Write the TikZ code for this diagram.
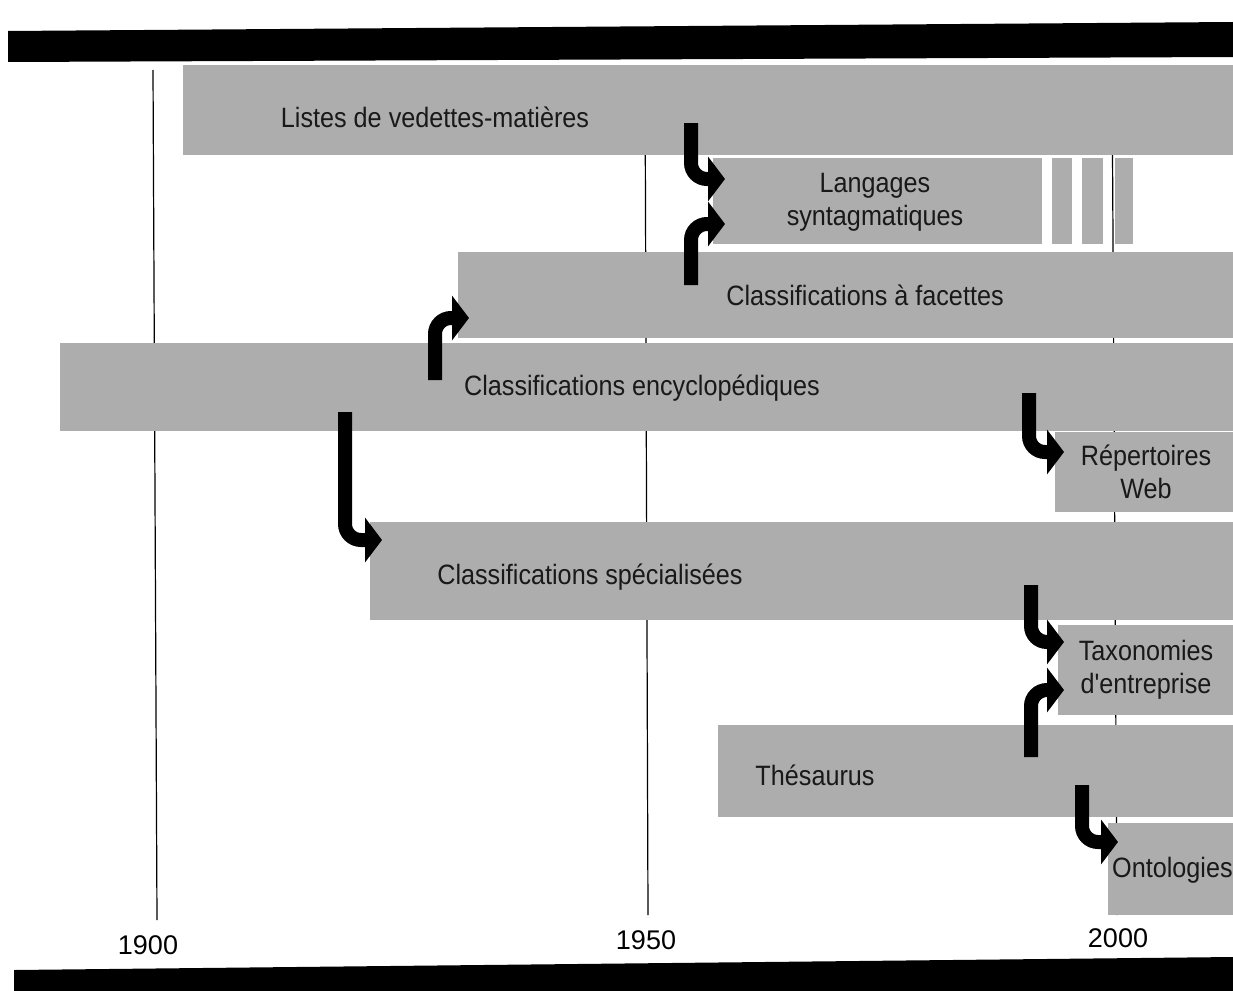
\documentclass[tikz,border=0pt]{standalone}
\usepackage{fontspec}
\setmainfont{Liberation Sans}[FakeStretch=0.9, Ligatures=TeXOff]
\newfontfamily\yearfont{Liberation Sans}
\usetikzlibrary{arrows.meta}
\definecolor{barfill}{gray}{0.68}
\tikzset{
  bar/.style={fill=barfill, draw=none, anchor=north west, inner sep=0pt, outer sep=0pt},
  lbl/.style={font=\fontsize{28}{33}\selectfont, inner sep=0pt, align=center, text=black!90},
  year/.style={font=\yearfont\fontsize{27}{30}\selectfont, inner sep=0pt},
  tick/.style={draw=black, line width=1.2pt},
  band/.style={fill=black, draw=none},
  bentarrow/.style={draw=black, line width=14pt, rounded corners=16pt,
               -{Triangle[length=17pt,width=44pt]}}
}
\begin{document}
\begin{tikzpicture}[x=1pt,y=-1pt]
\useasboundingbox (0,0) rectangle (1233,990);

% black bands, top and bottom
\fill[band] (8,31) -- (1233,22) -- (1233,57) -- (8,62) -- cycle;
\fill[band] (14,970) -- (1233,957) -- (1233,998) -- (14,998) -- cycle;

% time axis: vertical rules for each half-century
\coordinate (y1900t) at (153,70);  \coordinate (y1900b) at (157,920);
\coordinate (y1950t) at (645,70);  \coordinate (y1950b) at (648,915);
\coordinate (y2000t) at (1112,70); \coordinate (y2000b) at (1117,915);
\draw[tick] (y1900t) -- (y1900b);
\draw[tick] (y1950t) -- (y1950b);
\draw[tick] (y2000t) -- (y2000b);
\node[year] (l1900) at (148,945) {1900};
\node[year] (l1950) at (646,940) {1950};
\node[year] (l2000) at (1118,938) {2000};

% bars
\node[bar, minimum width=1050pt, minimum height=90pt] (listes)   at (183,65)  {};
\node[bar, minimum width=329pt,  minimum height=86pt] (lang)     at (713,158) {};
\node[bar, minimum width=20pt,   minimum height=86pt] (langA)    at (1052,158) {};
\node[bar, minimum width=21pt,   minimum height=86pt] (langB)    at (1082,158) {};
\node[bar, minimum width=18pt,   minimum height=86pt] (langC)    at (1115,158) {};
\node[bar, minimum width=775pt,  minimum height=86pt] (facettes) at (458,252) {};
\node[bar, minimum width=1173pt, minimum height=88pt] (encyclo)  at (60,343)  {};
\node[bar, minimum width=178pt,  minimum height=80pt] (repert)   at (1055,432) {};
\node[bar, minimum width=863pt,  minimum height=98pt] (special)  at (370,522) {};
\node[bar, minimum width=175pt,  minimum height=90pt] (taxo)     at (1058,625) {};
\node[bar, minimum width=515pt,  minimum height=92pt] (thes)     at (718,725) {};
\node[bar, minimum width=125pt,  minimum height=92pt] (onto)     at (1108,823) {};

% labels
\node[lbl] (tlistes)   at (435,117)  {Listes de vedettes-matières};
\node[lbl] (tlang)     at (875,202)  {Langages\\syntagmatiques};
\node[lbl] (tfacettes) at (865,295)  {Classifications à facettes};
\node[lbl] (tencyclo)  at (642,388)  {Classifications encyclopédiques};
\node[lbl] (trepert)   at (1146,472) {Répertoires\\Web};
\node[lbl] (tspecial)  at (590,577)  {Classifications spécialisées};
\node[lbl] (ttaxo)     at (1146,670) {Taxonomies\\d'entreprise};
\node[lbl] (tthes)     at (815,775)  {Thésaurus};
\node[lbl, anchor=west] (tonto) at (1112,870) {Ontologies};

% filiation arrows
\coordinate (s1) at (691,123);  \coordinate (e1) at (725,179);
\coordinate (s2) at (691,285);  \coordinate (e2) at (725,224);
\coordinate (s3) at (435,380);  \coordinate (e3) at (469,318);
\coordinate (s4) at (345,412);  \coordinate (e4) at (382,540);
\coordinate (s5) at (1029,393); \coordinate (e5) at (1064,452);
\coordinate (s6) at (1031,585); \coordinate (e6) at (1064,642);
\coordinate (s7) at (1031,757); \coordinate (e7) at (1064,690);
\coordinate (s8) at (1082,785); \coordinate (e8) at (1118,842);
\foreach \i in {1,...,8} {
  \draw[bentarrow] (s\i) |- (e\i);
}
\end{tikzpicture}
\end{document}
